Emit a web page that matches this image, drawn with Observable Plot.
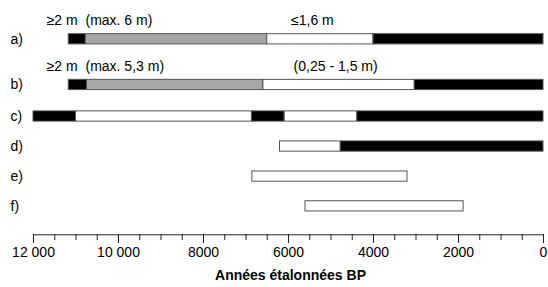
<!DOCTYPE html>
<html>
<head>
<meta charset="utf-8">
<script src="https://cdn.jsdelivr.net/npm/d3@7"></script>
<script src="https://cdn.jsdelivr.net/npm/@observablehq/plot@0.6"></script>
<style>
  html, body { margin: 0; padding: 0; background: #fff; }
  #chart svg { display: block; }
</style>
</head>
<body>
<div id="chart"></div>
<script>
// ---- data ----
const rows = ["a", "b", "c", "d", "e", "f"];
const rowLabels = ["a)", "b)", "c)", "d)", "e)", "f)"];

const segRow  = ["a", "a", "a", "a", "b", "b", "b", "b", "c", "c", "c", "c", "c", "d", "d", "e", "f"];
const segFrom = [11170, 10770, 6500, 4000, 11170, 10740, 6590, 3030, 12000, 11000, 6860, 6090, 4380, 6200, 4770, 6850, 5600];
const segTo   = [10770, 6500, 4000, 0, 10740, 6590, 3030, 0, 11000, 6860, 6090, 4380, 0, 4770, 0, 3200, 1880];
const segKind = ["black", "gray", "white", "black", "black", "gray", "white", "black", "black", "white", "black", "white", "black", "white", "black", "white", "white"];

const noteText = ["≥2 m\u00a0 (max. 6 m)", "≤1,6 m", "≥2 m\u00a0 (max. 5,3 m)", "(0,25 - 1,5 m)"];
const noteRow  = ["a", "a", "b", "b"];
const noteYear = [11690, 5940, 11690, 5880];

const majorTicks = [12000, 10000, 8000, 6000, 4000, 2000, 0];
const minorTicks = d3.range(0, 12001, 500);
const xLabel = "Années étalonnées BP";

// ---- layout (not data) ----
const rowLevel = {a: 0, b: 1.52, c: 2.57, d: 3.57, e: 4.57, f: 5.56};
const noteOffset = {a: -0.64, b: -0.62};
const half = 0.17;
const fills = {black: "#000", gray: "#a7a7a7", white: "#fff"};

const segs = segRow.map((r, i) => ({row: r, from: segFrom[i], to: segTo[i], kind: segKind[i]}));
const notes = noteText.map((t, i) => ({text: t, row: noteRow[i], year: noteYear[i]}));
const labels = rows.map((r, i) => ({row: r, label: rowLabels[i]}));

const fmt = d => d >= 10000 ? d3.format(",")(d).replace(/,/g, " ") : String(d);

const plot = Plot.plot({
  width: 548,
  height: 287,
  marginLeft: 33,
  marginRight: 5,
  marginTop: 0,
  marginBottom: 53,
  style: {fontFamily: "'Liberation Sans', Arial, Helvetica, sans-serif", fontSize: "14px", color: "#000", background: "#fff"},
  x: {domain: [12000, 0], label: null},
  y: {domain: [0, 6.508], range: [38.8, 234.3], axis: null},
  marks: [
    Plot.rect(segs, {
      x1: "from", x2: "to",
      y1: d => rowLevel[d.row] - half, y2: d => rowLevel[d.row] + half,
      fill: d => fills[d.kind],
      stroke: "#555", strokeWidth: 1
    }),
    Plot.text(notes, {
      x: "year", y: d => rowLevel[d.row] + noteOffset[d.row],
      text: "text", textAnchor: "start", fontSize: 14, fill: "#000"
    }),
    Plot.text(labels, {
      y: d => rowLevel[d.row], text: "label",
      frameAnchor: "left", dx: -23, textAnchor: "start", fontSize: 14, fill: "#000"
    }),
    Plot.ruleY([6.508], {stroke: "#222", strokeWidth: 1}),
    Plot.axisX({ticks: minorTicks, tickSize: 6, tickFormat: () => "", label: null, stroke: "#222"}),
    Plot.axisX({ticks: majorTicks, tickSize: 9, tickPadding: 4, tickFormat: fmt, label: null, stroke: "#222", fontSize: 14, fill: "#000"}),
    Plot.text([xLabel], {frameAnchor: "bottom", dy: 45, dx: 2, fontWeight: "bold", fontSize: 14, fill: "#000"})
  ]
});
document.getElementById("chart").appendChild(plot);
</script>
</body>
</html>
